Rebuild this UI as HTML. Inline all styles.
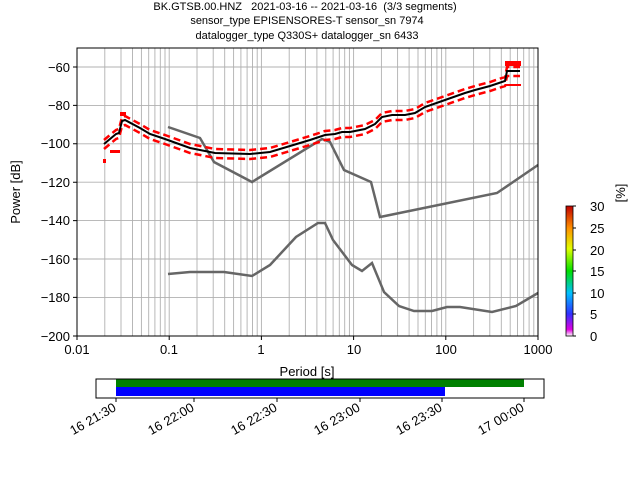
<!DOCTYPE html>
<html><head><meta charset="utf-8"><style>body{margin:0;background:#fff}svg{display:block;font-family:"Liberation Sans","DejaVu Sans",sans-serif}</style></head><body>
<svg width="640" height="480" viewBox="0 0 640 480" xmlns="http://www.w3.org/2000/svg">
<defs><linearGradient id="cb" x1="0" y1="1" x2="0" y2="0">
<stop offset="0" stop-color="#fff"/><stop offset="0.05" stop-color="#e000e0"/><stop offset="0.17" stop-color="#3030ff"/><stop offset="0.33" stop-color="#00c0ff"/><stop offset="0.5" stop-color="#00e000"/><stop offset="0.67" stop-color="#e0ff00"/><stop offset="0.83" stop-color="#ff9000"/><stop offset="1" stop-color="#c00000"/></linearGradient></defs>
<g font-size="11" text-anchor="middle" fill="#000" style="white-space:pre">
<text x="305" y="10" xml:space="preserve">BK.GTSB.00.HNZ   2021-03-16 -- 2021-03-16  (3/3 segments)</text>
<text x="307" y="24">sensor_type EPISENSORES-T sensor_sn 7974</text>
<text x="307" y="39">datalogger_type Q330S+ datalogger_sn 6433</text>
</g>
<g stroke="#b0b0b0" stroke-width="0.9" id="grid">
<path d="M77,67H538M77,105.4H538M77,143.8H538M77,182.2H538M77,220.6H538M77,259H538M77,297.4H538"/>
<path d="M104.8,48V336M121,48V336M132.5,48V336M141.4,48V336M148.7,48V336M154.9,48V336M160.3,48V336M165,48V336M169.2,48V336
M197,48V336M213.2,48V336M224.7,48V336M233.6,48V336M240.9,48V336M247.1,48V336M252.5,48V336M257.2,48V336M261.4,48V336
M289.2,48V336M305.4,48V336M316.9,48V336M325.8,48V336M333.1,48V336M339.3,48V336M344.7,48V336M349.4,48V336M353.6,48V336
M381.4,48V336M397.6,48V336M409.1,48V336M418,48V336M425.3,48V336M431.5,48V336M436.9,48V336M441.6,48V336M445.8,48V336
M473.6,48V336M489.8,48V336M501.3,48V336M510.2,48V336M517.5,48V336M523.7,48V336M529.1,48V336M533.8,48V336"/>
</g>
<g fill="none" stroke="#666" stroke-width="2.5">
<polyline points="168,127 200,138 214,162 252,182 322,139 330,142 344,170 371,182 380,217 497,193 538,165"/>
<polyline points="168,274 190,272 224,272 252,276 270,265 296,237 318,223 325,223 333,240 352,265 362,271 372,263 384,292 399,306 414,311 432,311 447,307 460,307 492,312 516,306 538,293"/>
</g>
<g fill="none" stroke="#f00" stroke-width="2.5" stroke-dasharray="7 4">
<polyline transform="translate(0,-4)" points="104,144 116,134 119,133 122,121 125,120 140,128 150,134 165,139 190,148 215,153 250,154 270,152 290,146 310,140 325,135 335,134 342,132 350,132 365,129 375,124 382,117 392,115 405,115 415,113 425,107 445,100 465,93 475,90 490,86 505,81 507,71 520,71"/>
<polyline transform="translate(0,5)" points="104,144 116,134 119,133 122,121 125,120 140,128 150,134 165,139 190,148 215,153 250,154 270,152 290,146 310,140 325,135 335,134 342,132 350,132 365,129 375,124 382,117 392,115 405,115 415,113 425,107 445,100 465,93 475,90 490,86 505,81 507,71 520,71"/>
</g>
<g fill="#f00"><rect x="120" y="112" width="6" height="4"/><rect x="505" y="61" width="16" height="5"/><rect x="505" y="84" width="16" height="2"/><rect x="103" y="159" width="3" height="4"/><rect x="110" y="150" width="10" height="3"/></g>
<polyline fill="none" stroke="#000" stroke-width="2" points="104,144 116,134 119,133 122,121 125,120 140,128 150,134 165,139 190,148 215,153 250,154 270,152 290,146 310,140 325,135 335,134 342,132 350,132 365,129 375,124 382,117 392,115 405,115 415,113 425,107 445,100 465,93 475,90 490,86 505,81 507,71 520,71"/>
<rect x="77" y="48" width="461" height="288" fill="none" stroke="#000" stroke-width="1"/>
<g stroke="#000"><path d="M77,336v4M169.2,336v4M261.4,336v4M353.6,336v4M445.8,336v4M538,336v4M73,67h4M73,105.4h4M73,143.8h4M73,182.2h4M73,220.6h4M73,259h4M73,297.4h4M73,336h4"/></g>
<g font-size="13" text-anchor="middle">
<text x="77" y="354">0.01</text><text x="169" y="354">0.1</text><text x="261" y="354">1</text><text x="354" y="354">10</text><text x="446" y="354">100</text><text x="538" y="354">1000</text>
<text x="307" y="376">Period [s]</text>
</g>
<g font-size="13" text-anchor="end">
<text x="70" y="72">−60</text><text x="70" y="110">−80</text><text x="70" y="148">−100</text><text x="70" y="187">−120</text><text x="70" y="225">−140</text><text x="70" y="264">−160</text><text x="70" y="302">−180</text><text x="70" y="341">−200</text>
</g>
<text font-size="13" text-anchor="middle" transform="translate(20,192) rotate(-90)">Power [dB]</text>
<rect x="566" y="206" width="7" height="130" fill="url(#cb)" stroke="#000" stroke-width="0.8"/>
<g stroke="#000"><path d="M573,206h3M573,228h3M573,250h3M573,271h3M573,293h3M573,314h3M573,336h3"/></g>
<g font-size="13"><text x="590" y="211">30</text><text x="590" y="233">25</text><text x="590" y="255">20</text><text x="590" y="276">15</text><text x="590" y="298">10</text><text x="590" y="319">5</text><text x="590" y="341">0</text></g>
<text font-size="13" text-anchor="middle" transform="translate(625,193) rotate(-90)">[%]</text>
<rect x="116" y="379" width="408" height="8" fill="#008000"/>
<rect x="116" y="387" width="329" height="9" fill="#0000ff"/>
<rect x="96" y="379" width="448" height="19" fill="none" stroke="#000" stroke-width="1"/>
<g stroke="#000"><path d="M116,398v4M194,398v4M277,398v4M360,398v4M442,398v4M524,398v4"/></g>
<g font-size="13" text-anchor="end">
<text transform="translate(117,410) rotate(-30)">16 21:30</text>
<text transform="translate(195,410) rotate(-30)">16 22:00</text>
<text transform="translate(278,410) rotate(-30)">16 22:30</text>
<text transform="translate(361,410) rotate(-30)">16 23:00</text>
<text transform="translate(443,410) rotate(-30)">16 23:30</text>
<text transform="translate(525,410) rotate(-30)">17 00:00</text>
</g>
</svg>
</body></html>
